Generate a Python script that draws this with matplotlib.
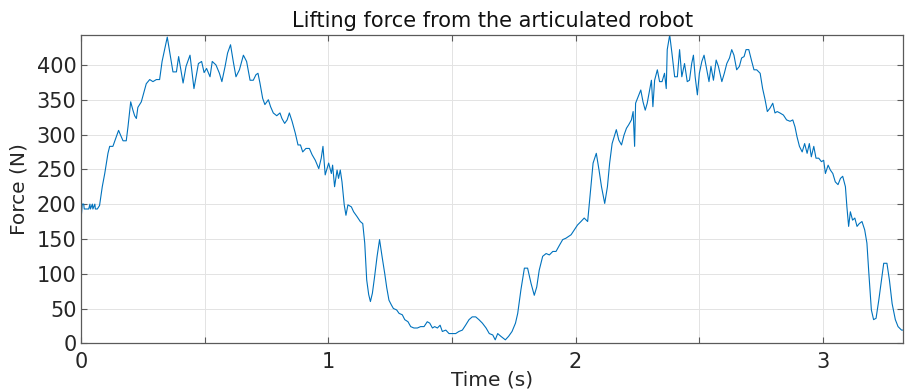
import matplotlib
matplotlib.use("Agg")
import matplotlib.pyplot as plt

time_s = [
    0.000, 0.004, 0.010, 0.012, 0.030, 0.035, 0.037, 0.045, 0.047, 0.055, 0.057, 0.065,
    0.074, 0.085, 0.095, 0.108, 0.115, 0.128, 0.135, 0.142, 0.151, 0.158, 0.169, 0.182,
    0.189, 0.200, 0.209, 0.216, 0.223, 0.229, 0.243, 0.256, 0.263, 0.277, 0.290, 0.304,
    0.317, 0.327, 0.348, 0.371, 0.385, 0.394, 0.412, 0.424, 0.440, 0.456, 0.474, 0.487,
    0.497, 0.507, 0.521, 0.530, 0.545, 0.559, 0.569, 0.582, 0.592, 0.604, 0.615, 0.626,
    0.640, 0.656, 0.669, 0.683, 0.696, 0.707, 0.715, 0.723, 0.734, 0.743, 0.757, 0.766,
    0.777, 0.791, 0.804, 0.812, 0.823, 0.833, 0.842, 0.853, 0.866, 0.877, 0.887, 0.896,
    0.909, 0.923, 0.934, 0.947, 0.961, 0.971, 0.978, 0.987, 1.001, 1.012, 1.017, 1.025,
    1.035, 1.041, 1.048, 1.055, 1.064, 1.071, 1.079, 1.093, 1.102, 1.116, 1.129, 1.139,
    1.147, 1.155, 1.163, 1.170, 1.178, 1.187, 1.197, 1.207, 1.217, 1.228, 1.236, 1.245,
    1.255, 1.263, 1.276, 1.286, 1.299, 1.309, 1.322, 1.333, 1.346, 1.360, 1.373, 1.387,
    1.400, 1.410, 1.421, 1.430, 1.441, 1.452, 1.461, 1.475, 1.488, 1.501, 1.515, 1.528,
    1.542, 1.555, 1.569, 1.582, 1.596, 1.609, 1.623, 1.638, 1.651, 1.665, 1.675, 1.685,
    1.698, 1.716, 1.729, 1.743, 1.757, 1.766, 1.779, 1.793, 1.806, 1.820, 1.833, 1.843,
    1.853, 1.867, 1.881, 1.894, 1.908, 1.921, 1.935, 1.948, 1.961, 1.982, 1.995, 2.008,
    2.022, 2.035, 2.049, 2.061, 2.071, 2.084, 2.095, 2.105, 2.118, 2.129, 2.138, 2.148,
    2.158, 2.165, 2.175, 2.186, 2.196, 2.206, 2.215, 2.226, 2.233, 2.239, 2.243, 2.253,
    2.264, 2.273, 2.282, 2.290, 2.300, 2.307, 2.313, 2.320, 2.331, 2.340, 2.350, 2.360,
    2.367, 2.371, 2.381, 2.390, 2.401, 2.412, 2.421, 2.430, 2.441, 2.452, 2.461, 2.470,
    2.477, 2.484, 2.493, 2.501, 2.511, 2.520, 2.531, 2.540, 2.548, 2.558, 2.569, 2.578,
    2.592, 2.602, 2.612, 2.623, 2.632, 2.641, 2.652, 2.663, 2.672, 2.682, 2.690, 2.701,
    2.713, 2.722, 2.733, 2.747, 2.757, 2.767, 2.776, 2.787, 2.798, 2.807, 2.816, 2.827,
    2.841, 2.854, 2.868, 2.879, 2.888, 2.896, 2.906, 2.917, 2.927, 2.937, 2.946, 2.954,
    2.964, 2.973, 2.984, 2.995, 3.004, 3.011, 3.022, 3.031, 3.041, 3.051, 3.062, 3.072,
    3.081, 3.092, 3.098, 3.105, 3.112, 3.121, 3.130, 3.139, 3.148, 3.159, 3.170, 3.179,
    3.186, 3.197, 3.206, 3.216, 3.227, 3.238, 3.247, 3.260, 3.270, 3.281, 3.294, 3.305,
    3.319, 3.325,
]

force_n = [
    182, 200, 200, 193, 193, 200, 193, 200, 193, 200, 193, 193,
    198, 225, 244, 273, 283, 283, 290, 297, 306, 300, 291, 291,
    311, 347, 335, 327, 323, 339, 347, 364, 373, 379, 376, 379,
    379, 405, 440, 390, 390, 412, 374, 398, 414, 366, 402, 405,
    389, 395, 383, 405, 400, 388, 376, 398, 417, 429, 405, 383,
    393, 414, 405, 378, 378, 386, 388, 374, 352, 343, 350, 340,
    331, 327, 331, 323, 316, 321, 331, 319, 302, 285, 285, 275,
    280, 280, 271, 263, 251, 266, 283, 242, 259, 244, 256, 225,
    249, 237, 249, 232, 199, 184, 199, 196, 189, 182, 175, 172,
    144, 91, 70, 60, 72, 96, 125, 149, 125, 100, 80, 62,
    55, 50, 48, 43, 41, 34, 31, 24, 22, 22, 24, 24,
    31, 29, 22, 24, 22, 26, 17, 19, 14, 14, 14, 17,
    19, 26, 34, 38, 38, 34, 29, 22, 14, 12, 5, 14,
    10, 5, 10, 17, 29, 43, 77, 108, 108, 86, 69, 81,
    105, 125, 129, 127, 132, 132, 141, 149, 151, 156, 163, 170,
    175, 180, 175, 220, 259, 273, 249, 225, 201, 225, 259, 287,
    299, 307, 292, 285, 299, 309, 314, 321, 333, 283, 345, 354,
    364, 347, 335, 345, 364, 378, 340, 378, 393, 376, 376, 388,
    366, 422, 443, 417, 383, 383, 422, 383, 402, 376, 378, 402,
    414, 383, 357, 388, 405, 414, 393, 376, 398, 378, 407, 398,
    376, 388, 402, 410, 422, 414, 393, 398, 410, 412, 422, 422,
    405, 393, 393, 388, 366, 350, 333, 338, 345, 331, 333, 331,
    328, 321, 319, 321, 311, 297, 283, 275, 287, 273, 287, 268,
    283, 266, 266, 261, 263, 244, 256, 249, 244, 232, 228, 237,
    240, 225, 196, 168, 189, 177, 180, 168, 172, 175, 163, 144,
    105, 48, 34, 36, 62, 91, 115, 115, 91, 57, 34, 24,
    19, 19,
]

x_ticks = [0, 0.5, 1, 1.5, 2, 2.5, 3]
x_tick_labels = ["0", "", "1", "", "2", "", "3"]
y_ticks = [0, 50, 100, 150, 200, 250, 300, 350, 400]

plt.rcParams["font.family"] = ["DejaVu Sans"]

fig = plt.figure(figsize=(9.09, 3.92), dpi=100)
ax = fig.add_axes([0.0894, 0.1242, 0.9040, 0.7865])

ax.plot(time_s, force_n, color="#0072BD", lw=0.8)

ax.set_xlim(0, 3.325)
ax.set_ylim(0, 443)
ax.set_xticks(x_ticks)
ax.set_xticklabels(x_tick_labels)
ax.set_yticks(y_ticks)

ax.grid(True, color="#e3e3e3", lw=0.7)
ax.set_axisbelow(True)
for s in ax.spines.values():
    s.set_color("#5a5a5a")
    s.set_linewidth(0.9)

ax.tick_params(axis="both", direction="in", length=4, width=0.8, color="#5a5a5a",
               labelsize=15, labelcolor="#262626", top=True, right=True)
ax.tick_params(axis="y", pad=3.5)
ax.tick_params(axis="x", pad=6)

ax.set_title("Lifting force from the articulated robot", fontsize=15, color="#111111", pad=5.5)
ax.set_xlabel("Time (s)", fontsize=14.5, color="#262626", va="center")
ax.xaxis.set_label_coords(0.5, -0.119)
ax.set_ylabel("Force (N)", fontsize=14.5, color="#262626", va="center")
ax.yaxis.set_label_coords(-0.0758, 0.5)

fig.savefig("out.png", dpi=100)
